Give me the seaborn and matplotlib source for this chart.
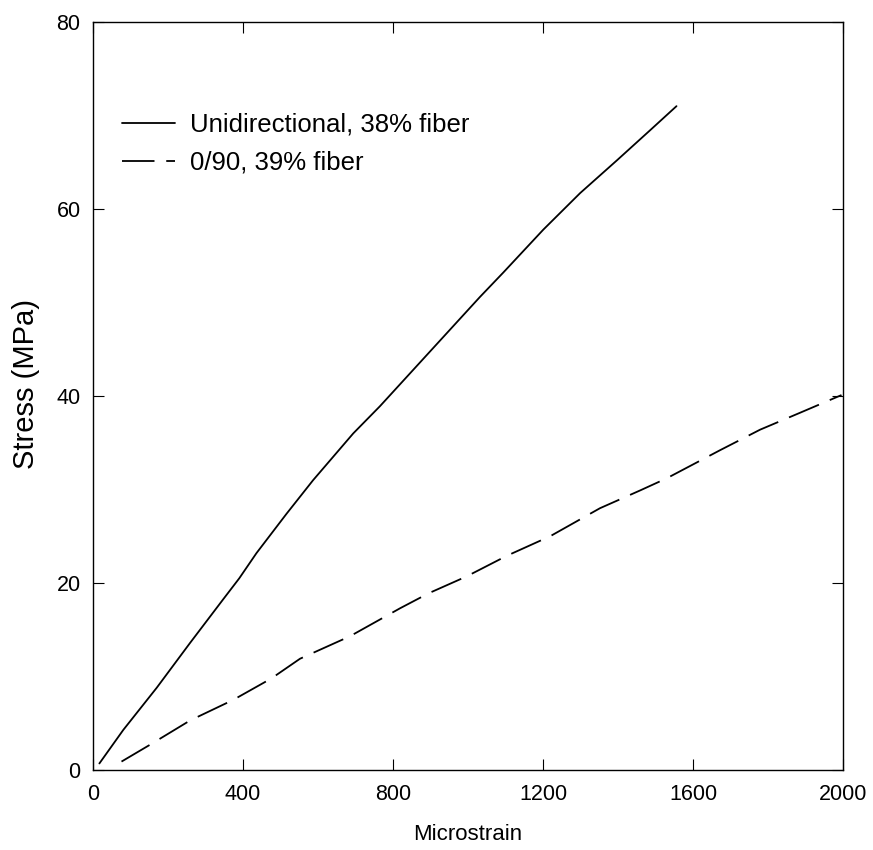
import matplotlib
matplotlib.use("Agg")
import matplotlib.pyplot as plt
import seaborn as sns

# values
uni_strain = [17, 81, 170, 259, 348, 390, 436, 516, 587, 694, 765, 854, 943,
              1032, 1094, 1201, 1299, 1397, 1485, 1556]
uni_stress = [0.7, 4.3, 8.8, 13.6, 18.3, 20.5, 23.2, 27.4, 31.0, 36.0, 38.9,
              42.8, 46.7, 50.6, 53.2, 57.8, 61.7, 65.2, 68.4, 71.0]

cross_strain = [76, 152, 259, 374, 476, 552, 685, 819, 895, 996, 1103, 1219,
                1352, 1459, 1530, 1672, 1779, 1885, 1996]
cross_stress = [0.9, 2.7, 5.3, 7.5, 9.8, 11.9, 14.3, 17.3, 18.9, 20.7, 22.9,
                25.0, 28.0, 29.9, 31.2, 34.2, 36.4, 38.2, 40.1]

x_ticks = [0, 400, 800, 1200, 1600, 2000]
y_ticks = [0, 20, 40, 60, 80]

sns.set_style("ticks")
plt.rcParams["font.family"] = ["Liberation Sans", "DejaVu Sans"]
plt.rcParams["text.color"] = "black"
plt.rcParams["axes.labelcolor"] = "black"

fig = plt.figure(figsize=(8.73, 8.5), dpi=100)
ax = fig.add_axes([93 / 873, 1 - 770 / 850, 750 / 873, 748 / 850])

# unidirectional laminate
sns.lineplot(x=uni_strain, y=uni_stress, ax=ax, color="black", lw=1.3,
             sort=False, estimator=None, label="Unidirectional, 38% fiber")
# cross-ply laminate
sns.lineplot(x=cross_strain, y=cross_stress, ax=ax, color="black", lw=1.3,
             sort=False, estimator=None, linestyle=(0, (18, 6.5)),
             label="0/90, 39% fiber")

ax.set_xlim(0, 2000)
ax.set_ylim(0, 80)
ax.set_xticks(x_ticks)
ax.set_yticks(y_ticks)

ax.tick_params(direction="in", length=8, width=0.8, top=True, right=True,
               labelsize=15.5, colors="black")
ax.tick_params(axis="x", pad=10)
ax.tick_params(axis="y", pad=9)
for s in ax.spines.values():
    s.set_linewidth(1.0)
    s.set_color("black")

ax.set_xlabel("Microstrain", fontsize=16, ha="center", va="center")
ax.xaxis.set_label_coords(0.5, -0.086)
ax.set_ylabel("Stress (MPa)", fontsize=21, ha="center", va="center")
ax.yaxis.set_label_coords(-0.09, 0.516)

ax.legend(loc="upper left", bbox_to_anchor=(0.0387, 0.879), frameon=False,
          fontsize=18.5, borderpad=0, borderaxespad=0, handlelength=2.06,
          handletextpad=0.6, labelspacing=0.55)

fig.savefig("out.png", dpi=100)
